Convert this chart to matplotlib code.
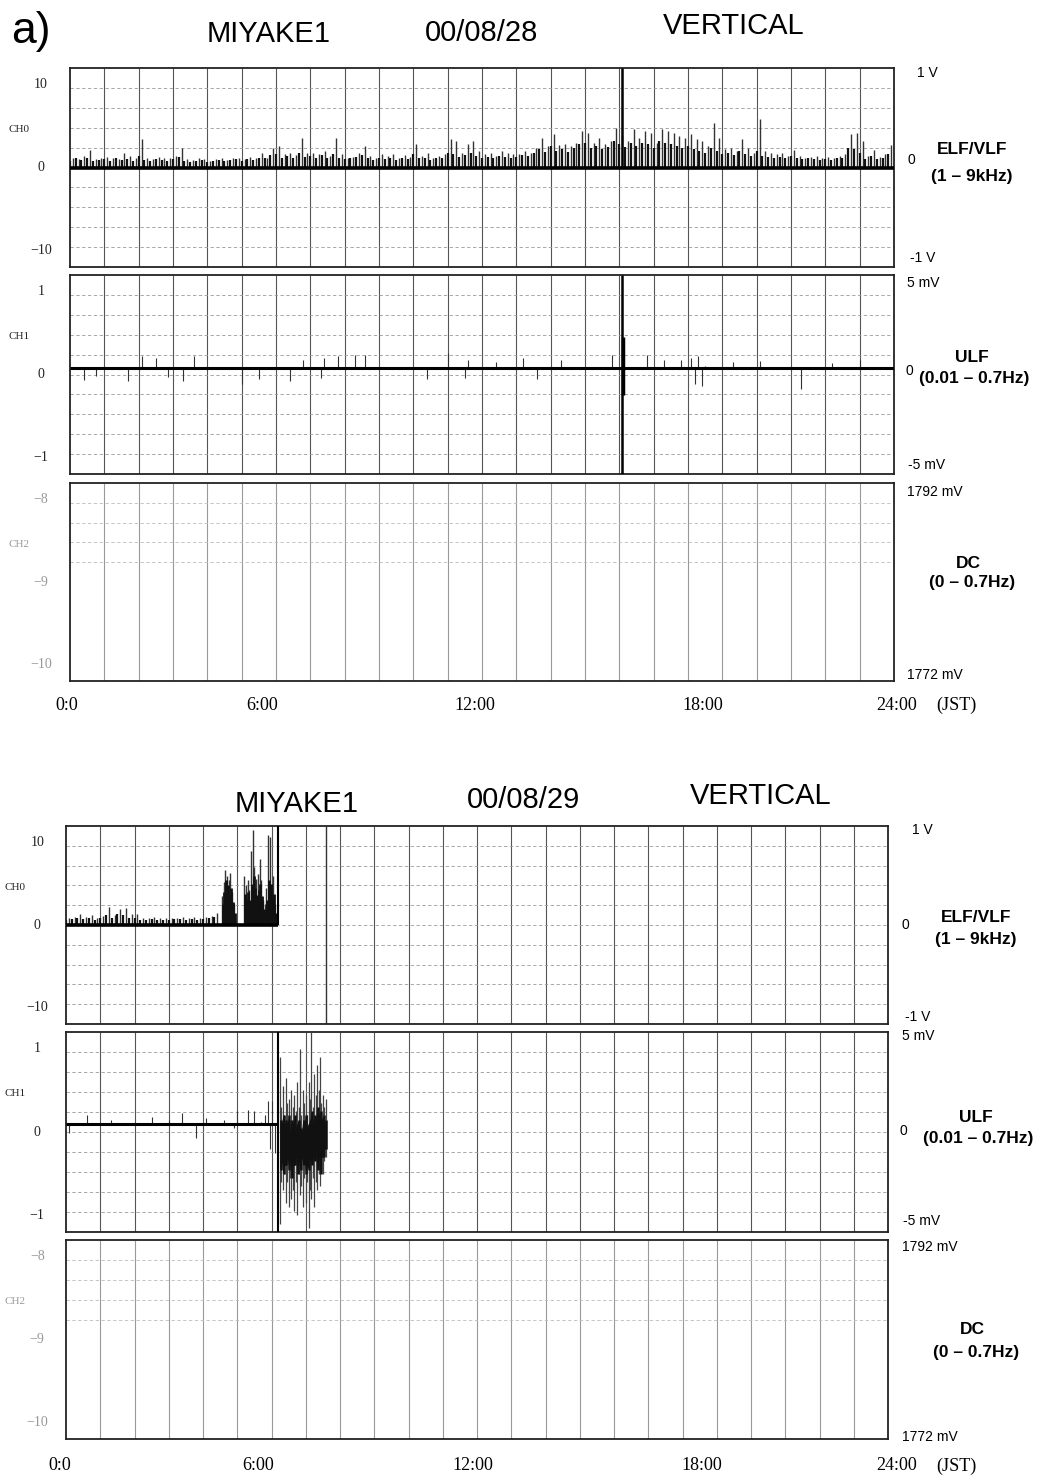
import numpy as np
import matplotlib
matplotlib.use('Agg')
import matplotlib.pyplot as plt

W, H = 1047, 1475

# ---------------- data (time in hours JST) ----------------
# 00/08/28  CH0 (ELF/VLF): tallest spike in each 10 min
d1_ch0_peak = [
    1.2, 1.0, 1.4, 2.1, 1.0, 1.2,   1.3, 1.1, 1.0, 1.8, 1.4, 1.2,
    3.4, 1.2, 1.0, 1.3, 1.2, 1.1,   1.4, 2.4, 1.0, 0.9, 1.1, 1.0,
    0.8, 1.0, 1.2, 0.9, 1.1, 1.2,   1.0, 1.3, 1.1, 1.8, 1.2, 2.4,
    2.6, 1.6, 1.8, 1.5, 3.6, 1.8,   1.8, 1.6, 2.0, 1.4, 3.5, 1.6,
    1.2, 1.3, 1.8, 2.6, 1.4, 1.2,   1.6, 1.4, 1.6, 1.2, 1.5, 1.3,
    2.8, 1.4, 1.8, 1.2, 1.4, 1.6,   3.4, 3.2, 1.8, 2.8, 3.2, 2.0,
    1.6, 1.8, 1.4, 2.0, 1.8, 1.6,   1.6, 2.0, 1.8, 2.4, 3.6, 2.6,
    4.0, 2.7, 2.8, 2.6, 3.0, 4.4,   4.2, 3.0, 3.6, 2.8, 3.2, 4.8,
    3.8, 3.2, 4.6, 3.6, 4.4, 4.2,   3.0, 4.6, 4.4, 4.2, 3.8, 3.6,
    4.0, 3.4, 3.2, 2.6, 5.4, 3.6,   2.2, 2.4, 2.0, 3.4, 2.4, 1.8,
    5.8, 2.0, 1.8, 1.6, 1.8, 1.4,   2.1, 1.4, 1.2, 1.3, 1.4, 1.2,
    1.3, 1.2, 1.4, 1.6, 4.0, 4.2,   3.2, 1.4, 2.1, 1.3, 1.6, 2.7,
]
# second-tallest spikes, between the ones above
d1_ch0_peak2 = [
    0.8, 1.1, 0.9, 1.2, 0.8, 0.9,   1.0, 0.8, 1.2, 0.9, 1.0, 0.8,
    1.4, 0.9, 0.8, 1.0, 0.9, 0.8,   1.0, 1.3, 0.8, 0.7, 0.8, 0.9,
    0.7, 0.8, 0.9, 0.8, 0.9, 1.0,   0.8, 1.0, 0.9, 1.2, 1.1, 1.5,
    1.6, 1.2, 1.4, 1.2, 1.8, 1.3,   1.4, 1.2, 1.5, 1.1, 1.6, 1.2,
    1.0, 1.1, 1.3, 1.5, 1.1, 0.9,   1.2, 1.0, 1.2, 0.9, 1.1, 1.0,
    1.6, 1.1, 1.2, 0.9, 1.1, 1.2,   1.8, 1.6, 1.3, 1.5, 1.7, 1.4,
    1.2, 1.3, 1.1, 1.4, 1.3, 1.2,   1.3, 1.5, 1.4, 1.8, 2.2, 1.9,
    2.6, 2.0, 2.2, 1.9, 2.3, 2.8,   3.0, 2.4, 2.6, 2.2, 2.5, 3.2,
    2.8, 2.5, 3.0, 2.6, 3.0, 2.8,   2.4, 3.2, 3.0, 2.8, 2.6, 2.4,
    2.6, 2.2, 2.0, 1.8, 2.4, 2.0,   1.6, 1.7, 1.5, 2.0, 1.6, 1.4,
    2.0, 1.4, 1.3, 1.2, 1.3, 1.1,   1.4, 1.1, 1.0, 1.1, 1.0, 0.9,
    1.0, 0.9, 1.1, 1.2, 2.4, 2.2,   1.8, 1.0, 1.4, 1.0, 1.2, 1.6,
]
d1_event_t = 16.07

# 00/08/28  CH1 (ULF)
d1_ch1_base = 0.08
d1_ch1_spk_t = [0.4, 0.75, 1.7, 2.1, 2.5, 2.85, 3.3, 3.6, 5.0, 5.5, 6.4, 6.8,
                7.3, 7.4, 7.8, 8.3, 8.6, 10.4, 11.0, 11.5, 11.6, 12.4, 13.2,
                13.6, 14.3, 15.8, 16.8, 17.3, 17.8, 18.1, 18.2, 18.3, 18.4,
                18.5, 19.3, 20.1, 21.3, 22.2, 23.0]
d1_ch1_spk_v = [-0.07, -0.02, -0.08, 0.22, 0.2, -0.03, -0.08, 0.22, -0.12,
                -0.06, -0.08, 0.18, -0.04, 0.2, 0.22, 0.24, 0.24, -0.06, 0.26,
                -0.04, 0.18, 0.15, 0.2, -0.05, 0.18, 0.24, 0.24, 0.18, 0.18,
                0.2, -0.12, 0.22, -0.14, 0.1, 0.15, 0.16, -0.17, 0.14, 0.18]

# 00/08/29  CH0: tallest spike in each 10 min up to 4:30
d2_ch0_peak = [0.9, 1.0, 1.3, 1.0, 1.2, 0.9, 1.1, 2.2, 1.2, 2.0, 2.1, 1.3,
               1.3, 0.9, 0.8, 1.0, 0.8, 0.9, 0.8, 0.9, 1.0, 0.8, 1.0, 0.9,
               1.0, 1.1, 1.4]
d2_ch0_peak2 = [0.6, 0.7, 0.9, 0.7, 0.8, 0.6, 0.8, 1.2, 0.9, 1.3, 1.2, 0.8,
                0.8, 0.6, 0.6, 0.7, 0.6, 0.6, 0.6, 0.7, 0.7, 0.6, 0.7, 0.6,
                0.7, 0.8, 1.0]
# burst before the recording stopped
d2_burst_t = [4.55, 4.6, 4.65, 4.7, 4.75, 4.8, 4.85, 4.9, 5.2, 5.25, 5.3,
              5.35, 5.4, 5.45, 5.5, 5.55, 5.6, 5.65, 5.7, 5.75, 5.8, 5.85,
              5.9, 5.95, 6.0, 6.05, 6.1]
d2_burst_h = [3.5, 5.2, 6.7, 6.0, 5.5, 6.3, 4.0, 2.5, 5.9, 4.8, 5.5, 4.2,
              9.0, 11.5, 7.0, 5.6, 6.2, 8.0, 5.5, 3.0, 2.5, 4.5, 10.9, 10.7,
              5.0, 6.0, 2.5]
d2_burst_h2 = [2.5, 4.0, 5.5, 4.8, 3.6, 4.5, 2.8, 1.5, 3.8, 3.2, 4.0, 3.0,
               5.0, 6.0, 4.5, 3.6, 4.2, 5.0, 3.5, 2.0, 1.6, 3.0, 5.5, 5.0,
               3.2, 3.8, 1.5]
d2_end_t = 6.2
d2_mark_t = 7.6

# 00/08/29  CH1
d2_ch1_base = 0.1
d2_ch1_spk_t = [0.1, 0.6, 1.3, 2.5, 3.0, 3.4, 3.8, 4.1, 4.6, 4.9, 5.0, 5.3,
                5.5, 5.7, 5.8, 5.9, 5.95, 6.0, 6.1]
d2_ch1_spk_v = [-0.01, 0.2, 0.15, 0.18, 0.14, 0.23, -0.07, 0.17, 0.15, 0.05,
                0.25, 0.27, 0.25, 0.12, 0.2, 0.37, -0.2, 0.37, -0.25]
# burst after the event, extremes every 2.5 min from 6:15 to 7:35
d2_ch1_max = [0.9, 0.3, 0.55, 0.2, 0.65, 0.35, 0.4, 0.15, 0.5, 0.3, 0.45,
              0.25, 0.6, 0.3, 1.0, 0.2, 0.5, 0.35, 0.45, 0.2, 0.6, 0.4, 1.2,
              0.3, 0.7, 0.45, 0.8, 0.5, 0.9, 0.35, 0.45, 0.3, 0.4]
d2_ch1_min = [-1.1, -0.6, -0.7, -0.5, -0.85, -0.6, -0.9, -0.55, -0.8, -0.7,
              -0.95, -0.6, -1.0, -0.5, -0.75, -0.65, -0.9, -0.55, -0.85, -0.6,
              -1.15, -0.7, -0.8, -0.55, -0.9, -0.6, -0.7, -0.5, -0.65, -0.45,
              -0.5, -0.35, -0.3]
# dense dark core of the burst, same 2.5 min steps
d2_ch1_hi = [0.15, 0.1, 0.2, 0.05, 0.15, 0.1, 0.2, 0.0, 0.15, 0.1, 0.2, 0.05,
             0.1, 0.15, 0.05, 0.0, 0.15, 0.1, 0.2, 0.05, 0.1, 0.15, 0.25,
             0.1, 0.2, 0.15, 0.3, 0.2, 0.25, 0.15, 0.2, 0.1, 0.15]
d2_ch1_lo = [-0.45, -0.35, -0.5, -0.4, -0.4, -0.3, -0.45, -0.35, -0.55,
             -0.4, -0.4, -0.3, -0.5, -0.35, -0.45, -0.3, -0.4, -0.35, -0.5,
             -0.4, -0.45, -0.3, -0.4, -0.3, -0.35, -0.25, -0.45, -0.3, -0.5,
             -0.3, -0.3, -0.2, -0.2]

ch_names = ['CH0', 'CH1', 'CH2']
ch_ticks = [[10, 0, -10], [1, 0, -1], [-8, -9, -10]]
ch_lims = [(-12, 12), (-1.2, 1.2), (-10.2, -7.8)]
hour_labels = ['0:0', '6:00', '12:00', '18:00', '24:00']

SANS = 'Liberation Sans'
SERIF = 'Liberation Serif'

fig = plt.figure(figsize=(W / 100, H / 100), dpi=100)


def panel(x0, y0, x1, y1):
    return fig.add_axes([x0 / W, 1 - y1 / H, (x1 - x0) / W, (y1 - y0) / H])


def ftext(x, y, s, **kw):
    kw.setdefault('va', 'center')
    fig.text(x / W, 1 - y / H, s, **kw)


def style(ax, i):
    lo, hi = ch_lims[i]
    faint = (i == 2)
    ax.set_xlim(0, 24)
    ax.set_ylim(lo, hi)
    ax.set_xticks([])
    ax.set_yticks([])
    for s in ax.spines.values():
        s.set_linewidth(1.3)
        s.set_color('#222')
    ax.vlines(np.arange(1, 24), lo, hi, color='#999' if faint else '#555',
              lw=0.8, zorder=1)
    step = (hi - lo) / 10
    levels = range(6, 10) if faint else range(1, 10)
    for k in levels:
        ax.axhline(lo + k * step, color='#bbb' if faint else '#999', lw=0.6,
                   ls=(0, (4, 3)), zorder=1)
    col = '#999' if faint else '#222'
    for v in ch_ticks[i]:
        ax.text(-0.035, v, '%d' % v if v >= 0 else '\u2212%d' % -v,
                transform=ax.get_yaxis_transform(), ha='center', va='center',
                family=SERIF, fontsize=10, color=col)
    ax.text(-0.062, 0.69, ch_names[i], transform=ax.transAxes, ha='center',
            va='center', family=SERIF, fontsize=8, color=col)


def block(x_titles, y_titles, x0, x1, rows, date, right, xlab_y, xlab_x):
    for (x, y, s) in zip(x_titles, y_titles, ['MIYAKE1', date, 'VERTICAL']):
        ftext(x, y, s, ha='center', family=SANS, fontsize=21)
    axes = []
    for i, (ya, yb) in enumerate(rows):
        ax = panel(x0, ya, x1, yb)
        style(ax, i)
        axes.append(ax)
    for (x, y, s, kw) in right:
        ftext(x, y, s, family=SANS, **kw)
    for x, s in zip(xlab_x, hour_labels):
        ftext(x, xlab_y, s, ha='center', family=SERIF, fontsize=13)
    ftext(xlab_x[-1] + 59, xlab_y, '(JST)', ha='center', family=SERIF,
          fontsize=13)
    return axes


def right_labels(xl, xc, y):
    b = dict(fontsize=12.5, fontweight='bold', ha='center')
    r = dict(fontsize=10, ha='left')
    return [
        (xl + 12, y[0], '1 V', r), (xl + 2, y[1], '0', r),
        (xc, y[2], 'ELF/VLF', b), (xc, y[3], '(1 \u2013 9kHz)', b),
        (xl + 5, y[4], '-1 V', r),
        (xl + 2, y[5], '5 mV', r), (xl, y[6], '0', r),
        (xc, y[7], 'ULF', b), (xc + 2, y[8], '(0.01 \u2013 0.7Hz)', b),
        (xl + 3, y[9], '-5 mV', r),
        (xl + 2, y[10], '1792 mV', r), (xc - 4, y[11], 'DC', b),
        (xc, y[12], '(0 \u2013 0.7Hz)', b), (xl + 2, y[13], '1772 mV', r),
    ]


ftext(31, 31, 'a)', ha='center', family=SANS, fontsize=32)

# ---------------- 00/08/28 ----------------
top = block([269, 482, 734], [34.5, 33, 26], 70, 894,
            [(68, 267), (275, 474), (483, 681)], '00/08/28',
            right_labels(905, 972, [73, 160, 150, 177, 258, 283, 371, 357,
                                    378, 465, 492, 563, 583, 675]),
            705, [67, 262, 475, 703, 897])

t10 = np.arange(len(d1_ch0_peak)) / 6.0 + 1 / 12.0
ax = top[0]
ax.vlines(t10, 0, d1_ch0_peak, color='#333', lw=1.0, zorder=3)
ax.vlines(t10 - 1 / 12.0, 0, d1_ch0_peak2, color='#111', lw=1.6, zorder=3)
ax.hlines(0, 0, 24, color='k', lw=2.6, zorder=4)
ax.vlines(d1_event_t, 0, 12, color='k', lw=1.8, zorder=4)

ax = top[1]
ax.hlines(d1_ch1_base, 0, 24, color='k', lw=2.2, zorder=4)
ax.vlines(d1_ch1_spk_t, d1_ch1_base, d1_ch1_spk_v, color='#333', lw=0.8,
          zorder=3)
ax.vlines(d1_event_t, -1.2, 1.2, color='k', lw=1.8, zorder=4)
ax.vlines(d1_event_t + 0.05, -0.25, 0.45, color='k', lw=2.5, zorder=4)

# ---------------- 00/08/29 ----------------
bot = block([297, 524, 761], [804, 800, 796], 66, 888,
            [(826, 1024), (1032, 1232), (1240, 1439)], '00/08/29',
            right_labels(900, 976, [830, 925, 917, 940, 1017, 1036, 1131,
                                    1118, 1139, 1221, 1247, 1330, 1352,
                                    1437]),
            1466, [60, 258, 473, 702, 897])

ax = bot[0]
tp = np.arange(len(d2_ch0_peak)) / 6.0 + 1 / 12.0
ax.vlines(tp, 0, d2_ch0_peak, color='#333', lw=1.0, zorder=3)
ax.vlines(tp - 1 / 12.0, 0, d2_ch0_peak2, color='#111', lw=1.6, zorder=3)
ax.vlines(d2_burst_t, 0, d2_burst_h, color='#333', lw=1.0, zorder=3)
ax.vlines(np.array(d2_burst_t) + 0.025, 0, d2_burst_h2, color='#111',
          lw=2.0, zorder=3)
ax.hlines(0, 0, d2_end_t, color='k', lw=2.6, zorder=4)
ax.vlines(d2_end_t, 0, 12, color='k', lw=1.5, zorder=4)
ax.vlines(d2_mark_t, -12, 12, color='#333', lw=1.0, zorder=2)

ax = bot[1]
ax.hlines(d2_ch1_base, 0, d2_end_t, color='k', lw=2.2, zorder=4)
ax.vlines(d2_ch1_spk_t, d2_ch1_base, d2_ch1_spk_v, color='#333', lw=0.8,
          zorder=3)
ax.vlines(d2_end_t, -1.2, 1.2, color='k', lw=1.5, zorder=4)
t25 = np.arange(len(d2_ch1_max)) / 24.0 + 6.25
ax.vlines(t25, d2_ch1_min, d2_ch1_max, color='#444', lw=0.9, zorder=3)
ax.vlines(t25 + 1 / 48.0, d2_ch1_lo, d2_ch1_hi, color='#111', lw=1.8,
          zorder=3)
ax.fill_between(t25, d2_ch1_lo, d2_ch1_hi, color='#111', lw=0, zorder=3)

fig.savefig('out.png', dpi=100)
